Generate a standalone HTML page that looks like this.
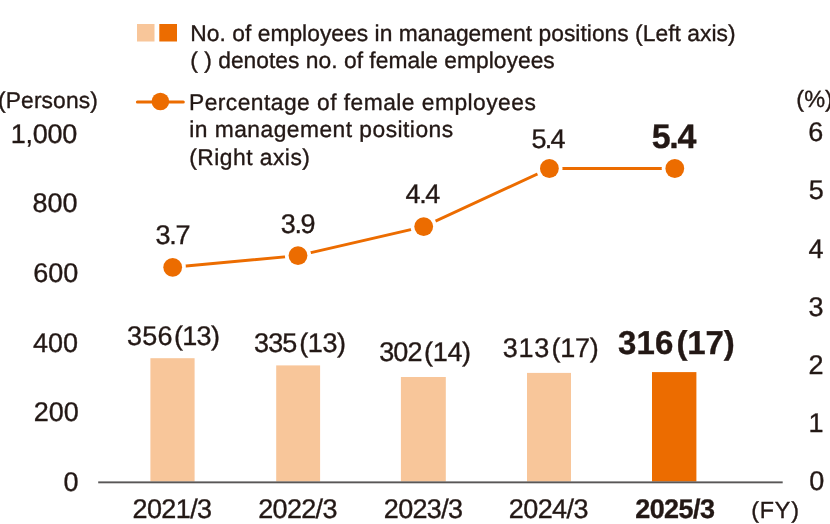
<!DOCTYPE html>
<html><head><meta charset="utf-8">
<style>
html,body{margin:0;padding:0;background:#fff;}
body{width:830px;height:524px;overflow:hidden;}
svg{display:block;will-change:transform;}
text{font-family:"Liberation Sans",Arial,sans-serif;fill:#231815;stroke:#231815;stroke-width:0.35px;text-rendering:geometricPrecision;}
</style></head>
<body>
<svg width="830" height="524" viewBox="0 0 830 524">
<rect x="137" y="24" width="17.5" height="17.5" fill="#F8C69A"/>
<rect x="159.3" y="24" width="17.7" height="17.5" fill="#EC6C00"/>
<line x1="137.4" y1="102" x2="183.3" y2="102" stroke="#EC6C00" stroke-width="3" stroke-linecap="round"/>
<circle cx="160.4" cy="101.5" r="8.8" fill="#EC6C00"/>
<rect x="150.4" y="358.2" width="44.2" height="123.3" fill="#F8C69A"/>
<rect x="276.2" y="365.4" width="43.9" height="116.1" fill="#F8C69A"/>
<rect x="400.9" y="377.0" width="44.9" height="104.5" fill="#F8C69A"/>
<rect x="527.0" y="372.9" width="44.0" height="108.6" fill="#F8C69A"/>
<rect x="652.0" y="372.1" width="44.4" height="109.4" fill="#EC6C00"/>
<rect x="98.2" y="481.4" width="684.5" height="1.9" fill="#595757"/>
<polyline points="172.7,267.3 298.0,255.6 423.7,226.6 549.4,168.5 674.8,168.5" fill="none" stroke="#EC6C00" stroke-width="2.9"/>
<circle cx="172.7" cy="267.3" r="13.1" fill="#fff"/>
<circle cx="298.0" cy="255.6" r="13.1" fill="#fff"/>
<circle cx="423.7" cy="226.6" r="13.1" fill="#fff"/>
<circle cx="549.4" cy="168.5" r="13.1" fill="#fff"/>
<circle cx="674.8" cy="168.5" r="13.1" fill="#fff"/>
<circle cx="172.7" cy="267.3" r="9.4" fill="#EC6C00"/>
<circle cx="298.0" cy="255.6" r="9.4" fill="#EC6C00"/>
<circle cx="423.7" cy="226.6" r="9.4" fill="#EC6C00"/>
<circle cx="549.4" cy="168.5" r="9.4" fill="#EC6C00"/>
<circle cx="674.8" cy="168.5" r="9.4" fill="#EC6C00"/>
<text x="190.31" y="41.00" font-size="22.8" textLength="545.19" lengthAdjust="spacing">No. of employees in management positions (Left axis)</text>
<text x="190.26" y="67.80" font-size="22.8" textLength="364.48" lengthAdjust="spacing">( ) denotes no. of female employees</text>
<text x="188.95" y="109.70" font-size="22.8" textLength="346.84" lengthAdjust="spacing">Percentage of female employees</text>
<text x="189.26" y="137.00" font-size="22.8" textLength="263.86" lengthAdjust="spacing">in management positions</text>
<text x="189.26" y="164.70" font-size="22.8" textLength="120.65" lengthAdjust="spacing">(Right axis)</text>
<text x="-1.90" y="107.70" font-size="22.8" textLength="99.70" lengthAdjust="spacing">(Persons)</text>
<text x="796.37" y="106.50" font-size="23.5">(%)</text>
<text x="751.37" y="517.70" font-size="23.3" textLength="47.53" lengthAdjust="spacing">(FY)</text>
<text x="10.85" y="142.60" font-size="27" textLength="66.34" lengthAdjust="spacing">1,000</text>
<text x="32.53" y="212.20" font-size="27">800</text>
<text x="33.34" y="281.80" font-size="27">600</text>
<text x="33.03" y="351.50" font-size="27">400</text>
<text x="33.68" y="421.10" font-size="27">200</text>
<text x="63.47" y="490.70" font-size="27">0</text>
<text x="808.33" y="141.40" font-size="27">6</text>
<text x="808.63" y="199.45" font-size="27">5</text>
<text x="808.60" y="257.50" font-size="27">4</text>
<text x="808.47" y="315.55" font-size="27">3</text>
<text x="808.50" y="373.60" font-size="27">2</text>
<text x="808.54" y="431.65" font-size="27">1</text>
<text x="809.28" y="489.70" font-size="27">0</text>
<text x="126.92" y="345.40" font-size="27" textLength="45.51" lengthAdjust="spacing">356</text>
<text x="174.02" y="345.40" font-size="27" textLength="45.92" lengthAdjust="spacing">(13)</text>
<text x="253.89" y="352.00" font-size="27" textLength="43.51" lengthAdjust="spacing">335</text>
<text x="299.15" y="352.00" font-size="27" textLength="46.90" lengthAdjust="spacing">(13)</text>
<text x="379.18" y="360.80" font-size="27" textLength="43.38" lengthAdjust="spacing">302</text>
<text x="424.12" y="360.80" font-size="27" textLength="46.91" lengthAdjust="spacing">(14)</text>
<text x="502.76" y="357.20" font-size="27" textLength="46.42" lengthAdjust="spacing">313</text>
<text x="551.42" y="357.20" font-size="27" textLength="47.24" lengthAdjust="spacing">(17)</text>
<text x="618.03" y="353.80" font-size="33" font-weight="bold" textLength="55.29" lengthAdjust="spacing">316</text>
<text x="676.39" y="353.80" font-size="33" font-weight="bold" textLength="58.33" lengthAdjust="spacing">(17)</text>
<text x="155.51" y="244.10" font-size="27" textLength="35.08" lengthAdjust="spacing">3.7</text>
<text x="280.82" y="233.30" font-size="27" textLength="34.63" lengthAdjust="spacing">3.9</text>
<text x="405.46" y="202.70" font-size="27" textLength="34.92" lengthAdjust="spacing">4.4</text>
<text x="531.62" y="148.20" font-size="27" textLength="33.91" lengthAdjust="spacing">5.4</text>
<text x="651.76" y="148.40" font-size="34" font-weight="bold" textLength="44.63" lengthAdjust="spacing">5.4</text>
<text x="132.57" y="517.80" font-size="27" textLength="79.46" lengthAdjust="spacing">2021/3</text>
<text x="258.20" y="517.80" font-size="27" textLength="79.29" lengthAdjust="spacing">2022/3</text>
<text x="383.81" y="517.80" font-size="27" textLength="79.19" lengthAdjust="spacing">2023/3</text>
<text x="508.81" y="517.80" font-size="27" textLength="79.62" lengthAdjust="spacing">2024/3</text>
<text x="635.23" y="517.80" font-size="27" font-weight="bold" textLength="79.73" lengthAdjust="spacing">2025/3</text>
</svg>
</body></html>
